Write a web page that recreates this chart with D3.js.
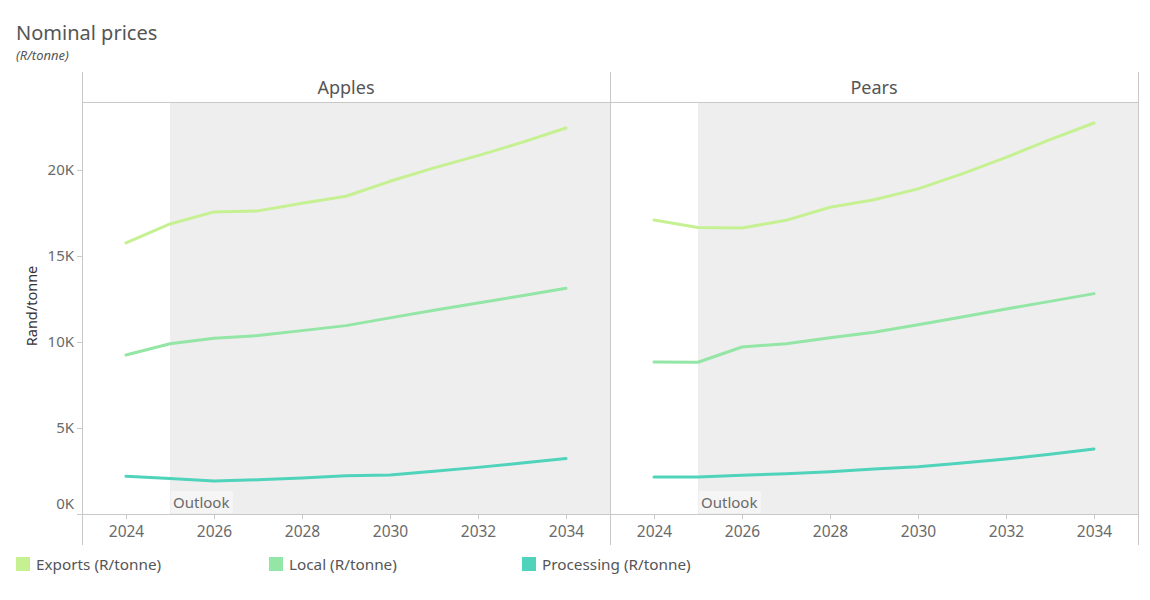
<!DOCTYPE html>
<html><head><meta charset="utf-8">
<script src="https://cdn.jsdelivr.net/npm/d3@7"></script>
<style>body{margin:0;background:#fff;font-family:"Noto Sans","Open Sans",sans-serif;}</style>
</head><body>
<svg id="c" width="1150" height="600"></svg>
<script>
const years = [2024,2025,2026,2027,2028,2029,2030,2031,2032,2033,2034];
const panels = ["Apples","Pears"];
const seriesNames = ["Exports (R/tonne)","Local (R/tonne)","Processing (R/tonne)"];
const seriesColors = ["#c6f192","#93e6a5","#4fd3bb"];
const applesExports = [15760,16860,17560,17620,18060,18470,19340,20120,20830,21600,22440];
const applesLocal = [9240,9900,10210,10370,10660,10950,11400,11840,12270,12690,13120];
const applesProcessing = [2190,2070,1920,1990,2090,2230,2270,2480,2710,2960,3220];
const pearsExports = [17090,16660,16630,17070,17830,18270,18900,19770,20730,21760,22730];
const pearsLocal = [8840,8820,9710,9900,10250,10560,11000,11450,11920,12360,12810];
const pearsProcessing = [2150,2150,2250,2340,2460,2610,2750,2960,3200,3470,3780];
const yTicks = [0,5000,10000,15000,20000];
const xTicks = [2024,2026,2028,2030,2032,2034];
const outlookStart = 2025;

const data = {
  Apples: [applesExports, applesLocal, applesProcessing],
  Pears: [pearsExports, pearsLocal, pearsProcessing]
};

const svg = d3.select("#c");
const textCol = "#6a6a6a";
const lineCol = "#c8c8c8";
const plotTop = 102, plotBottom = 514, headerTop = 72, axisBottom = 545;
const panelLeft = [82, 610], panelW = 528;

const y = d3.scaleLinear().domain([0, 23950]).range([plotBottom, plotTop]);

svg.append("text").attr("x",16).attr("y",40).attr("font-size",20).attr("fill","#555").text("Nominal prices");
svg.append("text").attr("x",16).attr("y",60).attr("font-size",13).attr("font-style","italic").attr("fill","#555").text("(R/tonne)");

panels.forEach((p, pi) => {
  const x0 = panelLeft[pi];
  const x = d3.scaleLinear().domain([2023, 2035]).range([x0, x0 + panelW]);
  const g = svg.append("g");
  g.append("rect").attr("x", x(outlookStart)).attr("y", plotTop).attr("width", x(2035) - x(outlookStart)).attr("height", plotBottom - plotTop).attr("fill", "#eeeeee");
  g.append("rect").attr("x", x(outlookStart)+1).attr("y", 491).attr("width", 62).attr("height", 22).attr("fill", "#f5f5f5");
  g.append("text").attr("x", x(outlookStart)+3).attr("y", 508).attr("font-size", 15).attr("fill", textCol).text("Outlook");
  g.append("text").attr("x", x0 + panelW/2).attr("y", 94).attr("text-anchor","middle").attr("font-size",18).attr("fill","#555").text(p);
  const xa = g.append("g").attr("transform", `translate(0,${plotBottom})`)
    .call(d3.axisBottom(x).tickValues(xTicks).tickFormat(d3.format("d")).tickSize(5).tickSizeOuter(0));
  xa.select(".domain").attr("stroke", lineCol);
  xa.selectAll(".tick line").attr("stroke", lineCol);
  xa.selectAll(".tick text").attr("font-size", 15.5).attr("fill", textCol).attr("dy","0.95em").attr("font-family","Noto Sans, sans-serif");
  const line = d3.line().x((d,i) => x(years[i])).y(d => y(d));
  data[p].forEach((vals, si) => {
    g.append("path").datum(vals).attr("d", line).attr("fill","none")
      .attr("stroke", seriesColors[si]).attr("stroke-width", 3).attr("stroke-linejoin","round").attr("stroke-linecap","round");
  });
});

svg.append("line").attr("x1",82).attr("x2",1138).attr("y1",plotTop+0.5).attr("y2",plotTop+0.5).attr("stroke",lineCol);
[82,610,1138].forEach(xv => {
  svg.append("line").attr("x1",xv+0.5).attr("x2",xv+0.5).attr("y1",headerTop).attr("y2",axisBottom).attr("stroke",lineCol);
});

const ya = svg.append("g").attr("transform","translate(82,0)")
  .call(d3.axisLeft(y).tickValues(yTicks).tickFormat(d => (d/1000)+"K").tickSize(5).tickSizeOuter(0));
ya.select(".domain").remove();
ya.selectAll(".tick line").attr("stroke", lineCol);
ya.selectAll(".tick text").attr("font-size",15).attr("fill",textCol).attr("font-family","Noto Sans, sans-serif")
  .attr("dy", d => d === 0 ? "-0.35em" : "0.32em");
svg.append("text").attr("transform","translate(37,306) rotate(-90)").attr("text-anchor","middle").attr("font-size",14.5).attr("fill","#333").text("Rand/tonne");

const legendX = [16, 269, 522];
seriesNames.forEach((n, i) => {
  svg.append("rect").attr("x", legendX[i]).attr("y", 557).attr("width", 14).attr("height", 14).attr("fill", seriesColors[i]);
  svg.append("text").attr("x", legendX[i] + 20).attr("y", 570).attr("font-size", 15.3).attr("fill", "#555").text(n);
});
</script>
</body></html>
